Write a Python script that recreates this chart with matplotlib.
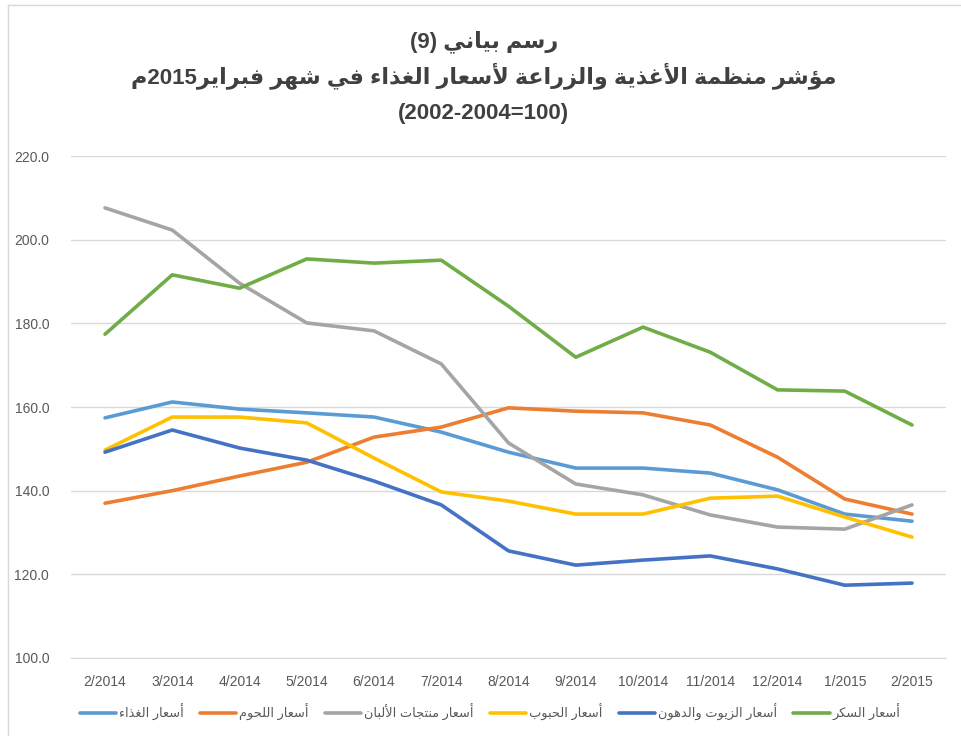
import matplotlib
matplotlib.use('Agg')
import matplotlib.pyplot as plt
from matplotlib.lines import Line2D

# --- data ---
months = ['2/2014', '3/2014', '4/2014', '5/2014', '6/2014', '7/2014', '8/2014',
          '9/2014', '10/2014', '11/2014', '12/2014', '1/2015', '2/2015']
food = [157.4, 161.2, 159.5, 158.6, 157.6, 154.0, 149.2, 145.4, 145.4, 144.2, 140.2, 134.4, 132.7]
meat = [137.0, 140.0, 143.5, 146.8, 152.8, 155.2, 159.8, 159.0, 158.6, 155.7, 148.0, 138.0, 134.4]
dairy = [207.6, 202.3, 189.6, 180.1, 178.2, 170.3, 151.4, 141.6, 139.0, 134.2, 131.3, 130.8, 136.6]
cereals = [149.7, 157.6, 157.6, 156.2, 147.8, 139.7, 137.5, 134.4, 134.4, 138.2, 138.7, 133.7, 128.9]
oils = [149.2, 154.5, 150.2, 147.3, 142.3, 136.6, 125.6, 122.2, 123.4, 124.4, 121.3, 117.4, 117.9]
sugar = [177.4, 191.6, 188.4, 195.4, 194.4, 195.1, 184.1, 171.9, 179.1, 173.1, 164.1, 163.8, 155.7]

names = ['أسعار الغذاء', 'أسعار اللحوم', 'أسعار منتجات الألبان',
         'أسعار الحبوب', 'أسعار الزيوت والدهون', 'أسعار السكر']
colors = ['#5B9BD5', '#ED7D31', '#A5A5A5', '#FFC000', '#4472C4', '#70AD47']

# --- tiny arabic shaper (no arabic_reshaper available) ---
FORMS = {
    'ء': (0xFE80,), 'آ': (0xFE81, 0xFE82), 'أ': (0xFE83, 0xFE84), 'ؤ': (0xFE85, 0xFE86),
    'إ': (0xFE87, 0xFE88), 'ئ': (0xFE89, 0xFE8A, 0xFE8B, 0xFE8C), 'ا': (0xFE8D, 0xFE8E),
    'ب': (0xFE8F, 0xFE90, 0xFE91, 0xFE92), 'ة': (0xFE93, 0xFE94),
    'ت': (0xFE95, 0xFE96, 0xFE97, 0xFE98), 'ث': (0xFE99, 0xFE9A, 0xFE9B, 0xFE9C),
    'ج': (0xFE9D, 0xFE9E, 0xFE9F, 0xFEA0), 'ح': (0xFEA1, 0xFEA2, 0xFEA3, 0xFEA4),
    'خ': (0xFEA5, 0xFEA6, 0xFEA7, 0xFEA8), 'د': (0xFEA9, 0xFEAA), 'ذ': (0xFEAB, 0xFEAC),
    'ر': (0xFEAD, 0xFEAE), 'ز': (0xFEAF, 0xFEB0),
    'س': (0xFEB1, 0xFEB2, 0xFEB3, 0xFEB4), 'ش': (0xFEB5, 0xFEB6, 0xFEB7, 0xFEB8),
    'ص': (0xFEB9, 0xFEBA, 0xFEBB, 0xFEBC), 'ض': (0xFEBD, 0xFEBE, 0xFEBF, 0xFEC0),
    'ط': (0xFEC1, 0xFEC2, 0xFEC3, 0xFEC4), 'ظ': (0xFEC5, 0xFEC6, 0xFEC7, 0xFEC8),
    'ع': (0xFEC9, 0xFECA, 0xFECB, 0xFECC), 'غ': (0xFECD, 0xFECE, 0xFECF, 0xFED0),
    'ف': (0xFED1, 0xFED2, 0xFED3, 0xFED4), 'ق': (0xFED5, 0xFED6, 0xFED7, 0xFED8),
    'ك': (0xFED9, 0xFEDA, 0xFEDB, 0xFEDC), 'ل': (0xFEDD, 0xFEDE, 0xFEDF, 0xFEE0),
    'م': (0xFEE1, 0xFEE2, 0xFEE3, 0xFEE4), 'ن': (0xFEE5, 0xFEE6, 0xFEE7, 0xFEE8),
    'ه': (0xFEE9, 0xFEEA, 0xFEEB, 0xFEEC), 'و': (0xFEED, 0xFEEE), 'ى': (0xFEEF, 0xFEF0),
    'ي': (0xFEF1, 0xFEF2, 0xFEF3, 0xFEF4),
}
LAMALEF = {'ا': (0xFEFB, 0xFEFC), 'أ': (0xFEF7, 0xFEF8), 'آ': (0xFEF5, 0xFEF6), 'إ': (0xFEF9, 0xFEFA)}


def dual(c):
    return c in FORMS and len(FORMS[c]) == 4


def ar(text):
    out = []
    i = 0
    n = len(text)
    while i < n:
        c = text[i]
        if c not in FORMS:
            out.append(c)
            i += 1
            continue
        prev = text[i - 1] if i > 0 else ''
        jp = dual(prev)
        if c == 'ل' and i + 1 < n and text[i + 1] in LAMALEF:
            f = LAMALEF[text[i + 1]]
            out.append(chr(f[1] if jp else f[0]))
            i += 2
            continue
        nxt = text[i + 1] if i + 1 < n else ''
        jn = dual(c) and nxt in FORMS
        f = FORMS[c]
        if len(f) == 1:
            out.append(chr(f[0]))
        elif jp and jn:
            out.append(chr(f[3]))
        elif jp:
            out.append(chr(f[1]))
        elif jn:
            out.append(chr(f[2]))
        else:
            out.append(chr(f[0]))
        i += 1
    return ''.join(out)[::-1]


plt.rcParams['font.family'] = ['Liberation Sans', 'DejaVu Sans']

fig = plt.figure(figsize=(9.62, 7.36), dpi=100)
ax = fig.add_axes([0.0742, 0.106, 0.9088, 0.682])

series = [food, meat, dairy, cereals, oils, sugar]
x = range(len(months))
for vals, nm, col in zip(series, names, colors):
    ax.plot(x, vals, color=col, lw=2.6, label=ar(nm), solid_capstyle='round')

ax.set_xlim(-0.5, len(months) - 0.5)
ax.set_ylim(100, 220)
ax.set_yticks(range(100, 221, 20))
ax.set_yticklabels([f'{v:.1f}' for v in range(100, 221, 20)])
ax.set_xticks(list(x))
ax.set_xticklabels(months)
ax.grid(axis='y', color='#D9D9D9', lw=1)
ax.set_axisbelow(True)
for s in ['top', 'right', 'left']:
    ax.spines[s].set_visible(False)
ax.spines['bottom'].set_color('#D9D9D9')
ax.tick_params(length=0, labelsize=10, labelcolor='#595959')
ax.tick_params(axis='y', pad=16)
ax.tick_params(axis='x', pad=12)

title1 = '(9) ' + ar('رسم بياني')
title2 = ar('م') + '2015' + ar('مؤشر منظمة الأغذية والزراعة لأسعار الغذاء في شهر فبراير')
title3 = '(2002-2004=100)'
tkw = dict(ha='center', va='center', fontsize=16, fontweight='bold', color='#404040')
fig.text(0.503, 1 - 42 / 736, title1, **tkw)
fig.text(0.503, 1 - 76 / 736, title2, **tkw)
fig.text(0.503, 1 - 114 / 736, title3, **tkw)

ax.legend(loc='center', bbox_to_anchor=(0.479, -0.108), ncol=6, frameon=False,
          fontsize=9.3, labelcolor='#595959', handlelength=2.8, handletextpad=0.25,
          columnspacing=1.25)

# thin chart-area border like the excel export
fig.add_artist(Line2D([8 / 962, 8 / 962], [0, 1 - 5 / 736], color='#D9D9D9', lw=1))
fig.add_artist(Line2D([8 / 962, 1], [1 - 5 / 736, 1 - 5 / 736], color='#D9D9D9', lw=1))

fig.savefig('out.png', dpi=100, facecolor='white')
